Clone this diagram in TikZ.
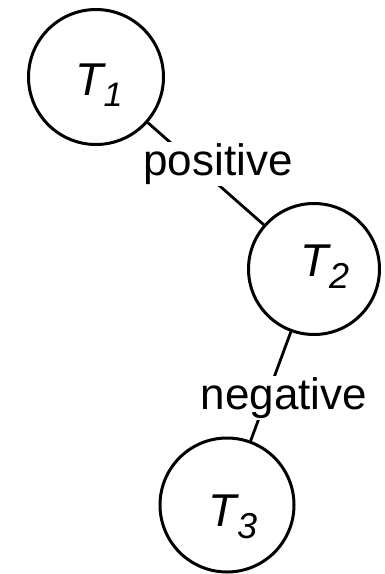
\documentclass[tikz,border=0pt]{standalone}
\usepackage{fontspec}
\setmainfont{Liberation Sans}
\begin{document}
\begin{tikzpicture}[x=1pt,y=-1pt,
  state/.style={draw, circle, line width=3pt, inner sep=0pt},
  conn/.style={line width=2.8pt},
  lbl/.style={font=\fontsize{44}{44}\selectfont, fill=white, inner sep=1.5pt},
  tname/.style={inner sep=0pt, font=\fontsize{46}{46}\selectfont\itshape}]
\useasboundingbox (0,0) rectangle (384,574);
\node[state, minimum size=135pt] (T1) at (96,77) {};
\node[state, minimum size=131pt] (T2) at (314,269) {};
\node[state, minimum size=134pt] (T3) at (227,505) {};
\draw[conn] (T1) -- (T2);
\draw[conn] (T2) -- (T3);
\node[lbl] (pos) at (218,164) {positive};
\node[lbl] (neg) at (284,398) {negative};
\node[tname] (n1) at (99,85) {T\raisebox{-11pt}{\fontsize{34}{34}\selectfont 1}};
\node[tname] (n2) at (325,267) {T\raisebox{-12pt}{\fontsize{36}{36}\selectfont 2}};
\node[tname] (n3) at (233,517) {T\raisebox{-12pt}{\fontsize{36}{36}\selectfont 3}};
\end{tikzpicture}
\end{document}
